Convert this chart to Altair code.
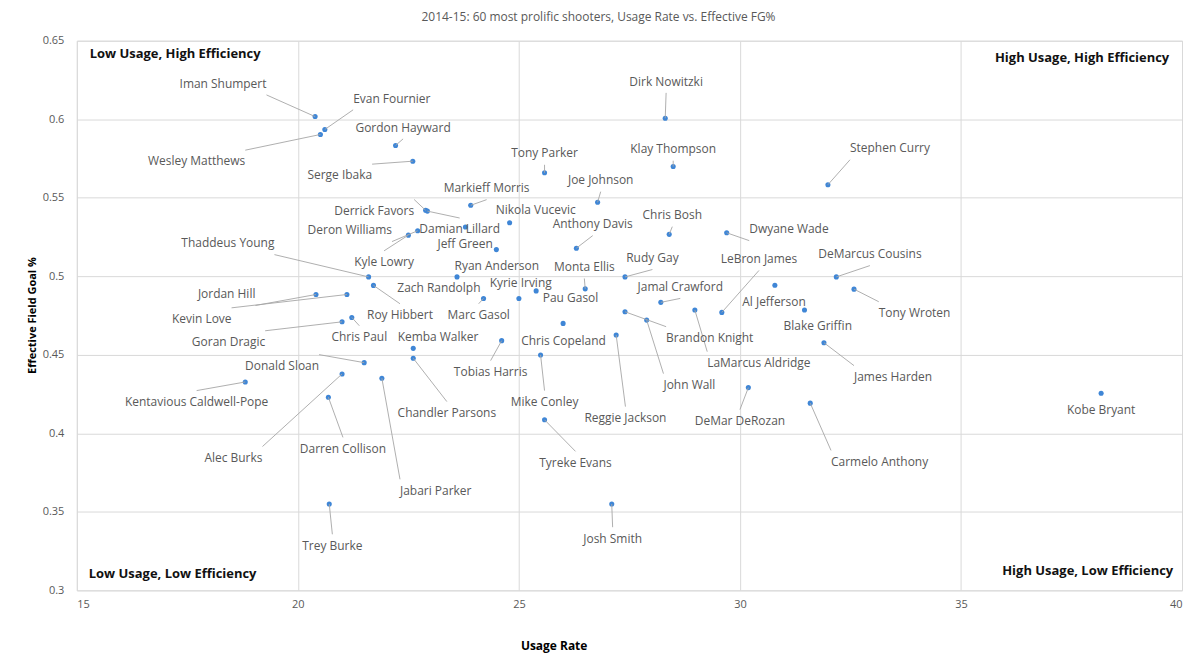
import altair as alt
import pandas as pd

names = ["Iman Shumpert", "Evan Fournier", "Wesley Matthews", "Gordon Hayward", "Serge Ibaka",
         "Dirk Nowitzki", "Tony Parker", "Klay Thompson", "Stephen Curry", "Joe Johnson",
         "Markieff Morris", "Derrick Favors", "Nikola Vucevic", "Damian Lillard", "Deron Williams",
         "Kyle Lowry", "Jeff Green", "Chris Bosh", "Dwyane Wade", "Anthony Davis",
         "Thaddeus Young", "Ryan Anderson", "Rudy Gay", "DeMarcus Cousins", "Roy Hibbert",
         "Al Jefferson", "LeBron James", "Tony Wroten", "Monta Ellis", "Pau Gasol",
         "Jordan Hill", "Kevin Love", "Marc Gasol", "Kyrie Irving", "Zach Randolph",
         "Jamal Crawford", "LaMarcus Aldridge", "Blake Griffin", "Brandon Knight", "Chris Paul",
         "John Wall", "Goran Dragic", "Chris Copeland", "Reggie Jackson", "Tobias Harris",
         "James Harden", "Kemba Walker", "Mike Conley", "Chandler Parsons", "Donald Sloan",
         "Alec Burks", "Jabari Parker", "Kentavious Caldwell-Pope", "DeMar DeRozan", "Kobe Bryant",
         "Darren Collison", "Carmelo Anthony", "Tyreke Evans", "Trey Burke", "Josh Smith"]

usage = [20.39, 20.61, 20.51, 22.21, 22.60,
         28.31, 25.58, 28.49, 31.99, 26.78,
         23.91, 22.89, 24.79, 22.93, 22.71,
         22.50, 24.49, 28.40, 29.70, 26.30,
         21.60, 23.60, 27.40, 32.18, 21.71,
         30.79, 29.59, 32.58, 26.50, 25.39,
         20.41, 21.11, 24.20, 25.00, 23.79,
         28.21, 28.98, 31.46, 27.40, 21.22,
         27.89, 21.00, 26.00, 27.20, 24.61,
         31.90, 22.61, 25.49, 22.61, 21.50,
         21.00, 21.90, 18.81, 30.19, 38.17,
         20.69, 31.59, 25.58, 20.71, 27.10]

efg = [0.6017, 0.5935, 0.5903, 0.5833, 0.5733,
       0.6006, 0.5659, 0.5699, 0.5583, 0.5471,
       0.5452, 0.5420, 0.5341, 0.5415, 0.5290,
       0.5262, 0.5170, 0.5267, 0.5277, 0.5179,
       0.4996, 0.4996, 0.4996, 0.4996, 0.4942,
       0.4943, 0.4770, 0.4918, 0.4920, 0.4907,
       0.4884, 0.4884, 0.4859, 0.4859, 0.5314,
       0.4834, 0.4785, 0.4785, 0.4774, 0.4738,
       0.4721, 0.4710, 0.4700, 0.4626, 0.4590,
       0.4577, 0.4541, 0.4499, 0.4478, 0.4450,
       0.4378, 0.4351, 0.4327, 0.4291, 0.4255,
       0.4230, 0.4192, 0.4086, 0.3550, 0.3550]

# label anchor positions (data units) and alignment
label_x = [19.29, 21.25, 18.81, 22.38, 21.68,
           28.33, 25.58, 28.49, 32.49, 26.85,
           24.27, 22.63, 25.38, 23.66, 22.13,
           21.95, 24.41, 28.47, 30.21, 26.67,
           19.47, 24.50, 28.02, 32.94, 22.31,
           30.77, 30.43, 33.14, 26.48, 25.54,
           19.04, 18.50, 24.09, 25.04, 23.19,
           28.65, 29.26, 31.76, 28.33, 21.39,
           28.27, 19.26, 26.01, 27.41, 24.36,
           32.58, 23.17, 25.58, 23.37, 20.48,
           19.20, 22.31, 17.71, 30.00, 38.17,
           21.02, 32.06, 26.28, 20.78, 27.12]

label_y = [0.6227, 0.6132, 0.5731, 0.5947, 0.5642,
           0.6240, 0.5782, 0.5808, 0.5814, 0.5611,
           0.5560, 0.5417, 0.5420, 0.5299, 0.5293,
           0.5090, 0.5204, 0.5388, 0.5299, 0.5331,
           0.5210, 0.5068, 0.5115, 0.5140, 0.4753,
           0.4835, 0.5109, 0.4766, 0.5058, 0.4861,
           0.4886, 0.4727, 0.4753, 0.4958, 0.4924,
           0.4931, 0.4448, 0.4683, 0.4607, 0.4613,
           0.4308, 0.4581, 0.4588, 0.4098, 0.4391,
           0.4359, 0.4613, 0.4200, 0.4130, 0.4429,
           0.3844, 0.3635, 0.4200, 0.4079, 0.4149,
           0.3902, 0.3819, 0.3813, 0.3285, 0.3330]

label_align = ["right", "left", "right", "center", "right",
               "center", "center", "center", "left", "center",
               "center", "right", "center", "center", "right",
               "center", "right", "center", "left", "center",
               "right", "center", "center", "center", "center",
               "center", "center", "left", "center", "left",
               "right", "right", "center", "center", "center",
               "center", "left", "center", "left", "center",
               "left", "right", "center", "center", "center",
               "left", "center", "center", "center", "right",
               "right", "left", "center", "center", "center",
               "center", "left", "center", "center", "center"]

has_leader = [True, True, True, True, True,
              True, True, True, True, True,
              True, True, False, True, True,
              True, False, True, True, True,
              True, False, True, True, True,
              False, True, True, True, False,
              True, True, True, False, False,
              True, True, False, True, True,
              True, True, False, True, True,
              True, False, True, True, True,
              True, True, True, True, False,
              True, True, True, True, True]

quad_text = ["Low Usage, High Efficiency", "High Usage, High Efficiency",
             "Low Usage, Low Efficiency", "High Usage, Low Efficiency"]
quad_x = [15.29, 39.71, 15.27, 39.80]
quad_y = [0.6417, 0.6392, 0.3101, 0.3126]
quad_align = ["left", "right", "left", "right"]

df = pd.DataFrame(dict(name=names, usage=usage, efg=efg, lx=label_x, ly=label_y,
                       align=label_align, leader=has_leader))

sx, sy = [], []
for _, r in df.iterrows():
    if r.align == "left":
        sx.append(r.lx - 0.09); sy.append(r.ly)
    elif r.align == "right":
        sx.append(r.lx + 0.09); sy.append(r.ly)
    else:
        sx.append(r.lx)
        sy.append(r.ly - 0.0072 if r.efg < r.ly else r.ly + 0.0072)
df["sx"] = sx
df["sy"] = sy

qdf = pd.DataFrame(dict(text=quad_text, x=quad_x, y=quad_y, align=quad_align))

FONT = "Open Sans"
xscale = alt.Scale(domain=[15, 40], nice=False, zero=False)
yscale = alt.Scale(domain=[0.3, 0.65], nice=False, zero=False)

xaxis = alt.Axis(values=[15, 20, 25, 30, 35, 40], title="Usage Rate", grid=True,
                 gridColor="#d9d9d9", domain=False, ticks=False, labelPadding=8,
                 labelColor="#595959", labelFontSize=11, labelFont=FONT,
                 titleFont=FONT, titleFontSize=12, titleFontWeight="bold", titleColor="#000000",
                 titleX=478, titleY=55, titleBaseline="middle")
yaxis = alt.Axis(values=[0.3, 0.35, 0.4, 0.45, 0.5, 0.55, 0.6, 0.65], format="~g",
                 title="Effective Field Goal %", grid=True, gridColor="#d9d9d9",
                 domain=False, ticks=False, labelPadding=13, labelColor="#595959",
                 labelFontSize=11, labelFont=FONT, titleFont=FONT, titleFontSize=11,
                 titleFontWeight="bold", titleColor="#000000", titleX=-44, titleY=275,
                 titleBaseline="middle")

base = alt.Chart(df)

points = base.mark_circle(size=26, color="#3f86d6", opacity=1).encode(
    x=alt.X("usage:Q", scale=xscale, axis=xaxis),
    y=alt.Y("efg:Q", scale=yscale, axis=yaxis),
)

leaders = base.transform_filter("datum.leader").mark_rule(
    color="#a6a6a6", strokeWidth=0.9).encode(
    x="sx:Q", y="sy:Q", x2="usage:Q", y2="efg:Q")

def label_layer(al):
    return base.transform_filter(f"datum.align == '{al}'").mark_text(
        align=al, baseline="middle", font=FONT, fontSize=12, color="#595959").encode(
        x="lx:Q", y="ly:Q", text="name:N")

labels = [label_layer(a) for a in ["left", "right", "center"]]

def quad_layer(al):
    return alt.Chart(qdf).transform_filter(f"datum.align == '{al}'").mark_text(
        align=al, baseline="middle", font=FONT, fontSize=13, fontWeight="bold",
        color="#111111").encode(x="x:Q", y="y:Q", text="text:N")

quads = [quad_layer("left"), quad_layer("right")]

chart = alt.layer(points, leaders, *labels, *quads).properties(
    width=1108, height=551,
    title=alt.TitleParams("2014-15: 60 most prolific shooters, Usage Rate vs. Effective FG%",
                          font=FONT, fontSize=12, fontWeight="normal", color="#595959",
                          anchor="middle", offset=11, dx=-31),
    autosize=alt.AutoSizeParams(type="none"),
    padding={"left": 69, "top": 32, "right": 10, "bottom": 62},
).configure_view(stroke="#d9d9d9").configure(background="white")

chart.save("out.html", embed_options={"renderer": "svg", "actions": False})
